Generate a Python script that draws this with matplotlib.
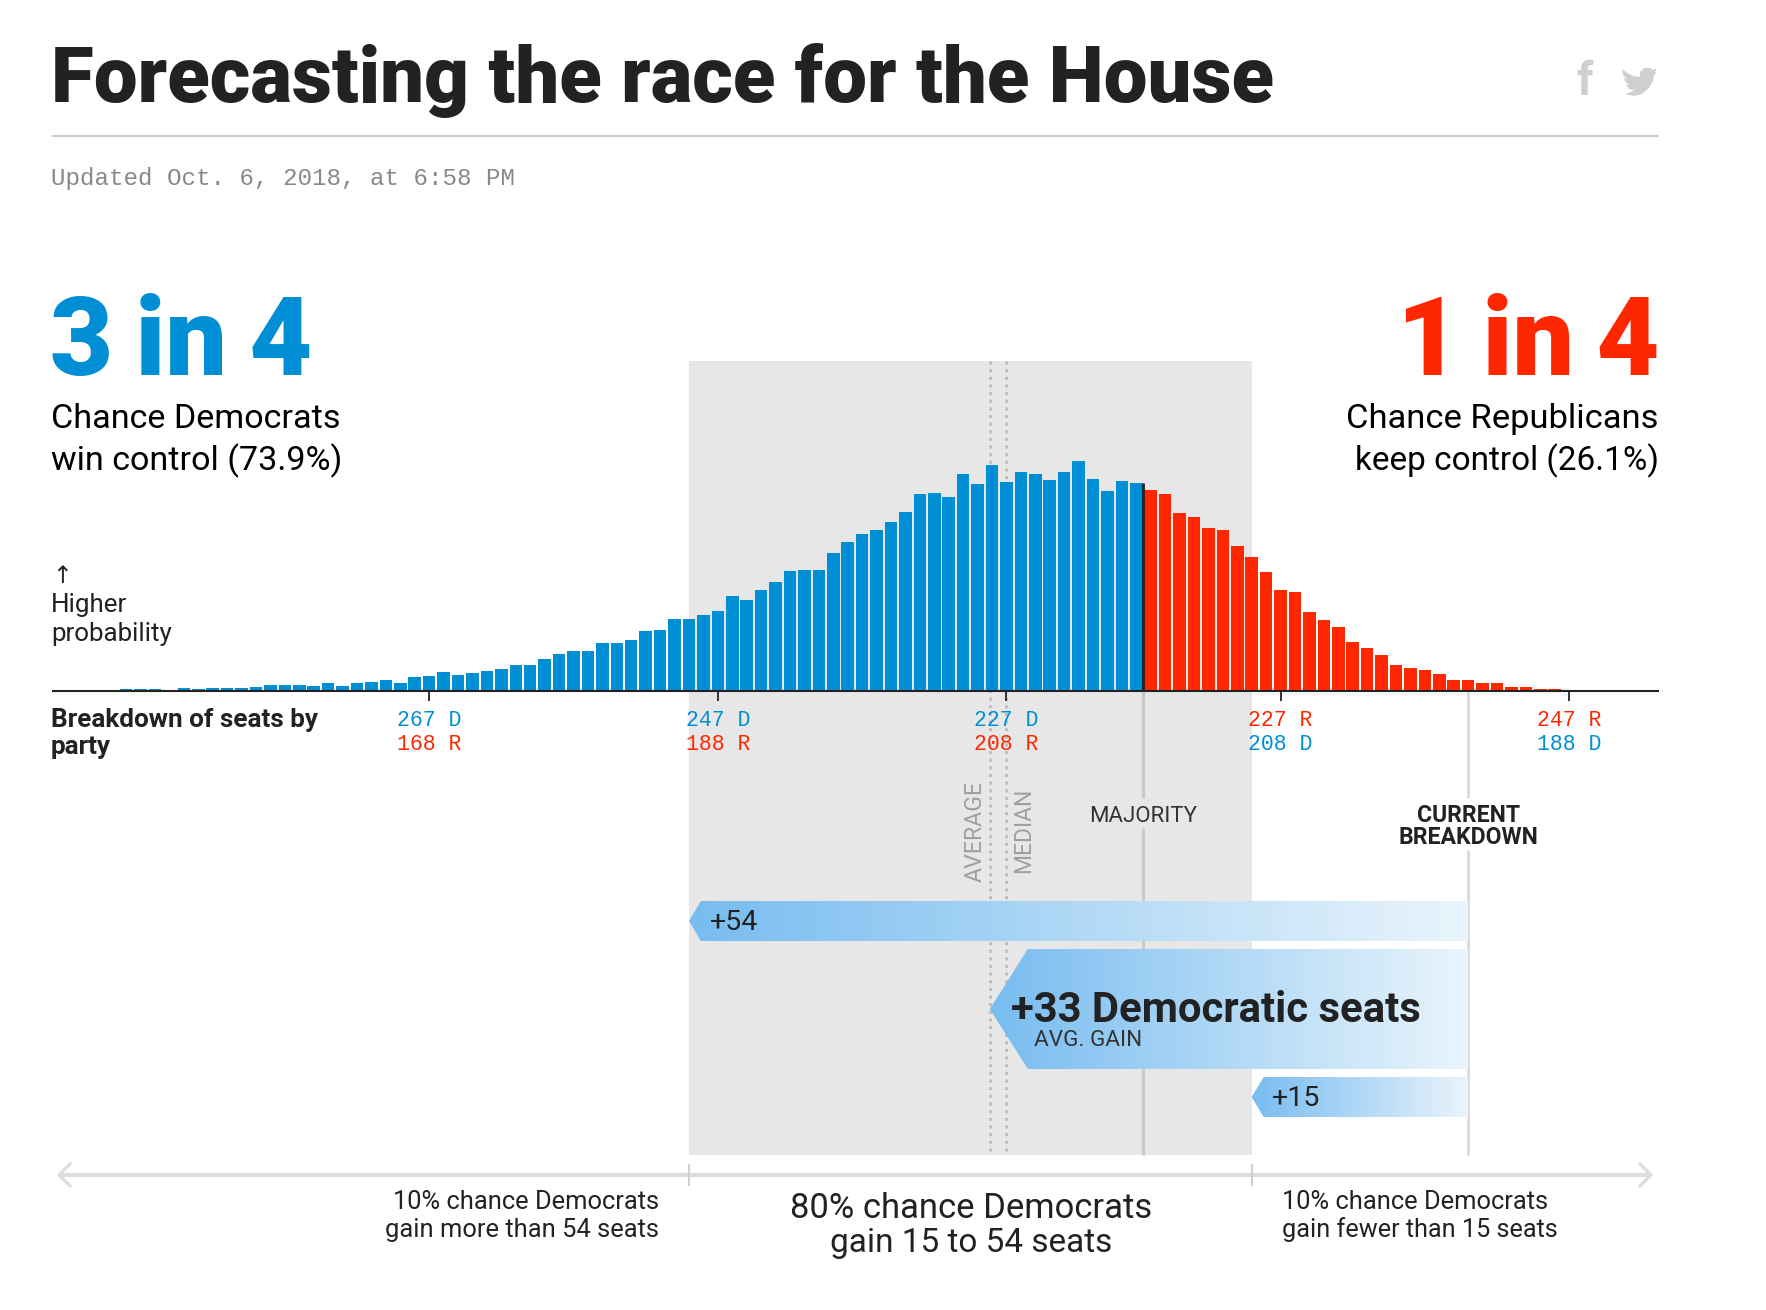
import numpy as np
import matplotlib
matplotlib.use('Agg')
import matplotlib.pyplot as plt
from matplotlib.colors import LinearSegmentedColormap
from matplotlib.patches import Polygon, Rectangle

# seats won by Democrats, one bar per seat count
dem_seats = np.arange(288, 187, -1)
# probability in percent
probs = [0.02, 0.02, 0.02, 0.01, 0.03, 0.02, 0.03, 0.03, 0.03, 0.04,
         0.07, 0.07, 0.07, 0.06, 0.09, 0.06, 0.10, 0.11, 0.13, 0.10,
         0.17, 0.18, 0.23, 0.19, 0.22, 0.24, 0.27, 0.31, 0.31, 0.39,
         0.45, 0.49, 0.49, 0.58, 0.58, 0.62, 0.73, 0.74, 0.88, 0.88,
         0.93, 0.97, 1.16, 1.11, 1.23, 1.33, 1.46, 1.47, 1.47, 1.68,
         1.82, 1.91, 1.96, 2.06, 2.18, 2.40, 2.41, 2.36, 2.65, 2.52,
         2.75, 2.55, 2.67, 2.64, 2.57, 2.67, 2.80, 2.58, 2.44, 2.56,
         2.53, 2.45, 2.40, 2.17, 2.12, 1.99, 1.96, 1.77, 1.63, 1.45,
         1.23, 1.20, 0.96, 0.86, 0.78, 0.59, 0.52, 0.44, 0.31, 0.28,
         0.25, 0.20, 0.13, 0.13, 0.09, 0.09, 0.04, 0.04, 0.02, 0.02,
         0.01]
probs = np.array(probs)

tick_seats = [267, 247, 227, 208, 188]
tick_top = ['267 D', '247 D', '227 D', '227 R', '247 R']
tick_bottom = ['168 R', '188 R', '208 R', '208 D', '188 D']

majority = 218
current = 195
gain_avg = 33.15
gain_high = 54
gain_low = 15
average = current + gain_avg
median = 227

BLUE = '#008fd5'
RED = '#ff2700'
INK = '#222222'
SANS = 'Roboto'
MONO = 'Liberation Mono'

W, H = 1766, 1310
fig = plt.figure(figsize=(W / 100, H / 100), dpi=100, facecolor='white')

# page axes in pixels, sits under the bars
page = fig.add_axes([0, 0, 1, 1], zorder=1)
page.axis('off')

# chart axes, x in seats (reversed), y in percent
left, right, top, base = 52, 1659, 361, 690.7
ax = fig.add_axes([left / W, 1 - base / H, (right - left) / W, (base - top) / H], zorder=2)
ax.patch.set_alpha(0)
ax.set_xlim(227 + (1006.4 - left) / 14.43, 227 - (right - 1006.4) / 14.43)
ax.set_ylim(0, (base - top) / 81.9)
for s in ['top', 'left', 'right']:
    ax.spines[s].set_visible(False)
ax.spines['bottom'].set_color(INK)
ax.spines['bottom'].set_linewidth(1.5)
ax.spines['bottom'].set_capstyle('butt')
ax.set_yticks([])
ax.set_xticks(tick_seats)
ax.set_xticklabels([])
ax.tick_params(axis='x', length=7.2, width=1.4, color='#333333')

colors = [BLUE if d >= majority else RED for d in dem_seats]
ax.bar(dem_seats, probs, width=0.87, color=colors, linewidth=0)
# black mark on the edge of the majority bar
maj_edge = majority - 0.5
ax.plot([maj_edge, maj_edge], [0, probs[list(dem_seats).index(majority)]], color=INK, lw=2, solid_capstyle='butt')


def sx(d):
    return ax.transData.transform((d, 0))[0]


# band for the 80% range
page.add_patch(Rectangle((sx(current + gain_high), top), sx(current + gain_low) - sx(current + gain_high), 1155 - top,
                         color='#e7e7e7', lw=0))

# average / median dotted lines
for d in [average, median]:
    page.plot([sx(d), sx(d)], [top, 1155], color='#bcbcbc', lw=2, linestyle=(0, (1.1, 1.65)))

# majority and current lines, gap where the labels sit
for y0, y1 in [(691, 798), (828, 1155)]:
    page.plot([sx(maj_edge)] * 2, [y0, y1], color='#c9c9c9', lw=2.2, solid_capstyle='butt')
for y0, y1 in [(691, 798), (850, 1155)]:
    page.plot([sx(current)] * 2, [y0, y1], color='#d9d9d9', lw=2, solid_capstyle='butt')

# gain arrows with gradient fill
grad = LinearSegmentedColormap.from_list('grad', ['#78bcf0', '#eaf5fc'])


def gain_arrow(gain, y0, y1, notch):
    x0 = sx(current + gain)
    x1 = sx(current)
    ym = (y0 + y1) / 2
    im = page.imshow(np.linspace(0, 1, 256)[None, :], cmap=grad, aspect='auto',
                     extent=[x0, x1, y1, y0], zorder=3)
    im.set_clip_path(Polygon([(x0, ym), (x0 + notch, y0), (x1, y0), (x1, y1), (x0 + notch, y1)],
                             transform=page.transData))


gain_arrow(gain_high, 901, 941, 12)
gain_arrow(gain_avg, 949, 1069, 38)
gain_arrow(gain_low, 1077, 1117, 12)
page.set_xlim(0, W)
page.set_ylim(H, 0)

# header
page.text(51, 102, 'Forecasting the race for the House', fontsize=56.2, fontweight=900,
          family=SANS, color=INK, va='baseline')
page.plot([52, 1659], [136, 136], color='#cccccc', lw=1.5, solid_capstyle='butt')
page.text(51, 185, 'Updated Oct. 6, 2018, at 6:58 PM', fontsize=17.4, family=MONO, color='#888888', va='baseline')

# share icons
page.text(1585, 95, 'f', fontsize=33, fontweight='bold', family=SANS, color='#cfcfcf', ha='center', va='baseline')
bird = [(1622, 69), (1627, 73), (1633, 76), (1640, 77), (1640, 72), (1644, 68), (1650, 68), (1653, 70),
        (1657, 68), (1655, 72), (1657, 72), (1654, 75), (1653, 81), (1649, 88), (1642, 94), (1634, 96),
        (1625, 94), (1631, 92), (1634, 90), (1629, 89), (1626, 85), (1629, 85), (1625, 81), (1624, 78),
        (1627, 79), (1623, 75)]
page.add_patch(Polygon(bird, closed=True, color='#cfcfcf', lw=0))

# headline odds
page.text(50, 375, '3\u2009in\u20094', fontsize=78.5, fontweight=900, family=SANS, color=BLUE, va='baseline')
page.text(1660, 375, '1\u2009in\u20094', fontsize=78.5, fontweight=900, family=SANS, color=RED, va='baseline', ha='right')
page.text(51, 428, 'Chance Democrats', fontsize=24.6, family=SANS, color='black', va='baseline')
page.text(51, 470, 'win control (73.9%)', fontsize=24.6, family=SANS, color='black', va='baseline')
page.text(1659, 428, 'Chance Republicans', fontsize=24.8, family=SANS, color='black', va='baseline', ha='right')
page.text(1659, 470, 'keep control (26.1%)', fontsize=24, family=SANS, color='black', va='baseline', ha='right')

page.text(62, 576, '↑', fontsize=17, family='DejaVu Sans', color=INK, ha='center', va='center')
page.text(51, 612, 'Higher', fontsize=18.7, family=SANS, color=INK, va='baseline')
page.text(51, 641, 'probability', fontsize=18.7, family=SANS, color=INK, va='baseline')

page.text(51, 727, 'Breakdown of seats by', fontsize=18.8, fontweight='bold', family=SANS, color=INK, va='baseline')
page.text(51, 754, 'party', fontsize=18.8, fontweight='bold', family=SANS, color=INK, va='baseline')

# tick labels, colour follows the party letter
for d, t, b in zip(tick_seats, tick_top, tick_bottom):
    page.text(sx(d), 721, t, fontsize=15.5, family=MONO, color=BLUE if t.endswith('D') else RED, ha='center', va='center')
    page.text(sx(d), 745, b, fontsize=15.5, family=MONO, color=BLUE if b.endswith('D') else RED, ha='center', va='center')

# line labels
page.text(sx(average) - 15, 831, 'AVERAGE', fontsize=16.7, family=SANS, color='#a0a0a0', rotation=90, ha='center', va='center')
page.text(sx(median) + 17, 830, 'MEDIAN', fontsize=16.5, family=SANS, color='#a0a0a0', rotation=90, ha='center', va='center')
page.text(sx(maj_edge), 816, 'MAJORITY', fontsize=16, family=SANS, color='#333333', ha='center', va='center')
page.text(sx(current), 815, 'CURRENT', fontsize=16.6, fontweight='bold', family=SANS, color=INK, ha='center', va='center')
page.text(sx(current), 837, 'BREAKDOWN', fontsize=16.6, fontweight='bold', family=SANS, color=INK, ha='center', va='center')

# arrow labels
page.text(710, 923, '+54', fontsize=20.5, family=SANS, color=INK, va='center', zorder=5)
page.text(1011, 1011, '+33 Democratic seats', fontsize=30.2, fontweight='bold', family=SANS, color=INK, va='center', zorder=5)
page.text(1034, 1041, 'AVG. GAIN', fontsize=16.2, family=SANS, color='#333333', va='center', zorder=5)
page.text(1272, 1099, '+15', fontsize=20.5, family=SANS, color=INK, va='center', zorder=5)

# range scale at the bottom
page.plot([59, 1651], [1175, 1175], color='#dddddd', lw=3, solid_capstyle='butt')
page.plot([70, 59, 70], [1164, 1175, 1186], color='#dddddd', lw=2.4)
page.plot([1640, 1651, 1640], [1164, 1175, 1186], color='#dddddd', lw=2.4)
for d in [gain_high, gain_low]:
    page.plot([sx(current + d)] * 2, [1165, 1185], color='#d0d0d0', lw=1.5)

page.text(659, 1202, '10% chance Democrats', fontsize=18.4, family=SANS, color=INK, ha='right', va='center')
page.text(659, 1230, 'gain more than 54 seats', fontsize=18.4, family=SANS, color=INK, ha='right', va='center')
page.text(1282, 1202, '10% chance Democrats', fontsize=18.4, family=SANS, color=INK, va='center')
page.text(1282, 1230, 'gain fewer than 15 seats', fontsize=18.2, family=SANS, color=INK, va='center')
page.text(971, 1208, '80% chance Democrats', fontsize=24.9, family=SANS, color=INK, ha='center', va='center')
page.text(971, 1243, 'gain 15 to 54 seats', fontsize=24, family=SANS, color=INK, ha='center', va='center')

fig.savefig('out.png', dpi=100)
